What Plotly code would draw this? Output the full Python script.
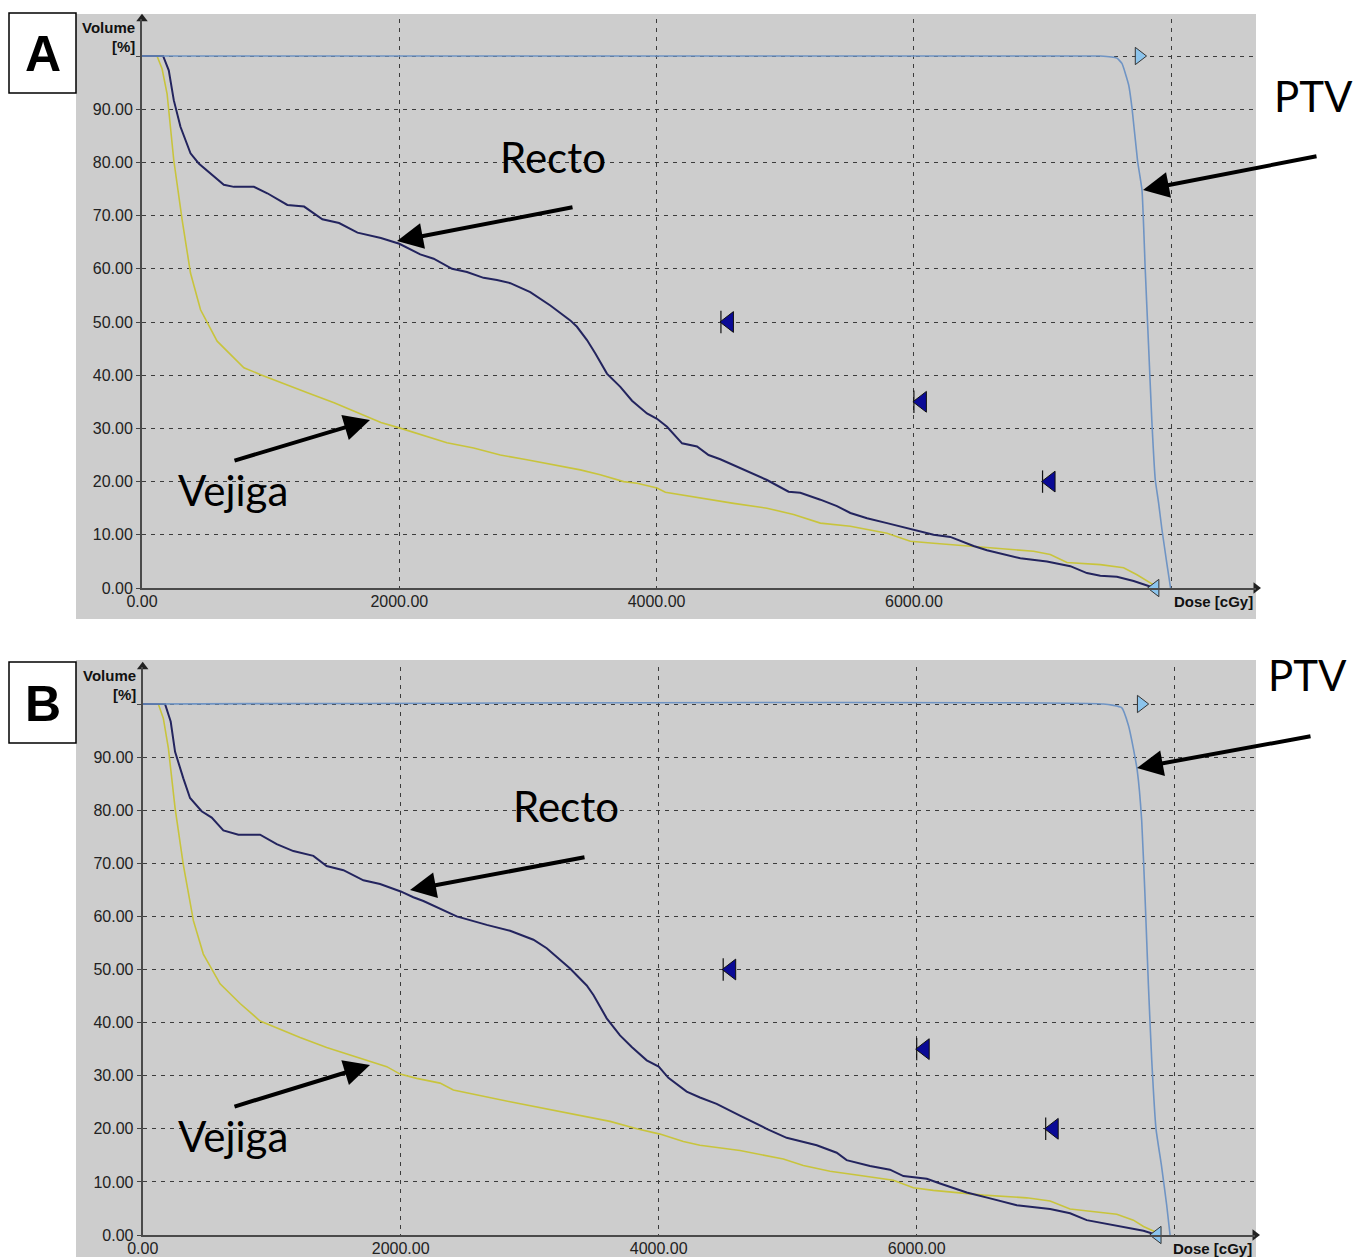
import plotly.graph_objects as go

FW, FH = 1355, 1257

# ---------------- data ----------------
recto_dose_A = [0, 164, 208, 247, 299, 377, 441, 532, 636, 714, 870, 974, 1130, 1260, 1402, 1532, 1675, 1857,
                2000, 2163, 2267, 2410, 2526, 2655, 2759, 2863, 3018, 3174, 3329, 3381, 3459, 3524, 3614, 3718,
                3809, 3925, 4003, 4081, 4198, 4314, 4404, 4495, 4677, 4858, 5026, 5117, 5273, 5402, 5506, 5636,
                5791, 5972, 6076, 6153, 6283, 6464, 6568, 6827, 7034, 7216, 7345, 7449, 7578, 7708, 7870]
recto_vol_A = [100, 100, 97.3, 91.7, 86.7, 81.7, 79.8, 77.9, 75.8, 75.4, 75.4, 74.2, 72.0, 71.7, 69.3, 68.6, 66.8, 65.8,
               64.7, 62.7, 61.9, 60.0, 59.4, 58.3, 57.9, 57.3, 55.6, 53.1, 50.3, 49.1, 46.6, 44.1, 40.3, 37.8,
               35.2, 32.8, 31.8, 30.3, 27.2, 26.6, 25.0, 24.2, 22.2, 20.3, 18.1, 17.9, 16.6, 15.4, 14.1, 13.1,
               12.2, 11.1, 10.6, 10.0, 9.6, 7.9, 7.1, 5.6, 5.0, 4.1, 2.8, 2.3, 2.1, 1.3, 0]
vejiga_dose_A = [0, 117, 156, 195, 247, 312, 377, 455, 584, 792, 922, 1078, 1286, 1493, 1779, 1857, 2000, 2163,
                 2370, 2578, 2785, 2992, 3200, 3407, 3562, 3744, 3848, 4003, 4068, 4236, 4495, 4599, 4858, 5065,
                 5273, 5506, 5791, 5972, 6153, 6412, 6671, 6930, 7060, 7190, 7449, 7630, 7734, 7863]
vejiga_vol_A = [100, 100, 97.6, 92.9, 80.4, 69.2, 59.2, 52.3, 46.4, 41.4, 40.1, 38.6, 36.7, 34.8, 32.0, 31.1, 30.1, 28.9,
                27.3, 26.3, 25.0, 24.1, 23.1, 22.2, 21.3, 20.0, 19.7, 18.8, 18.0, 17.3, 16.3, 15.9, 15.0, 13.8,
                12.2, 11.6, 10.3, 8.8, 8.4, 7.9, 7.3, 6.9, 6.3, 4.8, 4.4, 3.8, 2.5, 0.6]
ptv_dose_A = [0, 7449, 7578, 7617, 7669, 7695, 7739, 7773, 7798, 7824, 7850, 7876, 7902, 7928, 7967, 7995]
ptv_vol_A = [100, 100, 99.6, 98.6, 94.6, 90.3, 80.2, 74.8, 60.0, 45.6, 31.2, 20.4, 16.0, 11.0, 4.5, 0]
ptv_marker_dose_A = [7750, 7875]
ptv_marker_vol_A = [100, 0]

recto_dose_B = [0, 173, 217, 251, 315, 367, 457, 535, 625, 742, 910, 1039, 1168, 1323, 1426, 1556, 1711, 1840,
                2000, 2098, 2176, 2305, 2434, 2667, 2848, 3029, 3132, 3313, 3442, 3494, 3597, 3700, 3791, 3907,
                4000, 4075, 4217, 4320, 4449, 4630, 4837, 4992, 5225, 5380, 5457, 5638, 5793, 5897, 6078, 6181,
                6388, 6569, 6776, 7034, 7189, 7318, 7551, 7758, 7861]
recto_vol_B = [100, 100, 96.7, 91.0, 86.0, 82.3, 79.8, 78.6, 76.2, 75.4, 75.4, 73.6, 72.3, 71.4, 69.5, 68.7, 66.8, 66.1,
               64.7, 63.6, 62.9, 61.4, 60.0, 58.4, 57.3, 55.6, 54.0, 50.2, 47.0, 45.2, 40.8, 37.6, 35.4, 32.9,
               31.7, 29.6, 27.0, 25.9, 24.7, 22.5, 20.0, 18.3, 16.9, 15.5, 14.1, 13.0, 12.3, 11.1, 10.6, 9.7,
               8.0, 6.9, 5.6, 4.9, 4.1, 2.8, 1.7, 0.8, 0]
vejiga_dose_B = [0, 121, 160, 199, 251, 315, 393, 470, 600, 755, 910, 1220, 1426, 1762, 1892, 1995, 2124, 2305,
                 2408, 2848, 3235, 3623, 3830, 4010, 4191, 4320, 4630, 4966, 5121, 5328, 5535, 5819, 5974, 6129,
                 6517, 6853, 7034, 7189, 7551, 7680, 7758, 7848]
vejiga_vol_B = [100, 100, 97.3, 91.7, 80.4, 69.7, 59.2, 52.9, 47.3, 43.6, 40.3, 37.2, 35.3, 32.6, 31.7, 30.3, 29.5, 28.6,
                27.3, 25.1, 23.2, 21.4, 20.0, 19.0, 17.6, 16.9, 15.9, 14.3, 13.1, 12.0, 11.3, 10.3, 8.9, 8.4,
                7.5, 7.0, 6.4, 4.9, 3.9, 2.8, 1.6, 0.6]
ptv_dose_B = [0, 7447, 7589, 7641, 7679, 7710, 7744, 7770, 7796, 7822, 7855, 7899, 7938, 7964]
ptv_vol_B = [100, 100, 99.3, 96.0, 91.7, 87.4, 78.1, 63.7, 47.2, 32.9, 20.0, 12.8, 5.6, 0]
ptv_marker_dose_B = [7740, 7865]
ptv_marker_vol_B = [100, 0]

constraint_dose = [4500, 6000, 7000]
constraint_vol = [50, 35, 20]

x_tick_vals = [0, 2000, 4000, 6000, 8000]
x_tick_text = ["0.00", "2000.00", "4000.00", "6000.00", ""]
y_tick_vals = [0, 10, 20, 30, 40, 50, 60, 70, 80, 90, 100]
y_tick_text = ["0.00", "10.00", "20.00", "30.00", "40.00", "50.00", "60.00", "70.00", "80.00", "90.00", ""]

for a, b in [(recto_dose_A, recto_vol_A), (vejiga_dose_A, vejiga_vol_A), (ptv_dose_A, ptv_vol_A),
             (recto_dose_B, recto_vol_B), (vejiga_dose_B, vejiga_vol_B), (ptv_dose_B, ptv_vol_B)]:
    assert len(a) == len(b), (len(a), len(b))

# ---------------- layout geometry (reference pixels) ----------------
def pxx(x):
    return x / FW

def pxy(y):
    return 1 - y / FH

Y_TOP = 107
panels = [
    dict(name="A", xa="x", ya="y", x0=142.0, x1=1256.0, pxPerDose=257.3 / 2000, y0=588.0, pxPerVol=5.32,
         grey=(76, 14, 1256, 619), box=(9, 13, 76, 93),
         recto=(recto_dose_A, recto_vol_A), vejiga=(vejiga_dose_A, vejiga_vol_A), ptv=(ptv_dose_A, ptv_vol_A),
         ptvm=(ptv_marker_dose_A, ptv_marker_vol_A),
         labels=[("Recto", 553, 157), ("Vejiga", 233, 490), ("PTV", 1313, 96)],
         arrows=[(397, 241, 574, 207), (370, 420, 233, 461), (1143, 190, 1318, 156)]),
    dict(name="B", xa="x2", ya="y2", x0=142.7, x1=1255.0, pxPerDose=258.0 / 2000, y0=1235.0, pxPerVol=5.31,
         grey=(76, 660, 1256, 1257), box=(9, 662, 76, 743),
         recto=(recto_dose_B, recto_vol_B), vejiga=(vejiga_dose_B, vejiga_vol_B), ptv=(ptv_dose_B, ptv_vol_B),
         ptvm=(ptv_marker_dose_B, ptv_marker_vol_B),
         labels=[("Recto", 566, 806), ("Vejiga", 233, 1136), ("PTV", 1307, 675)],
         arrows=[(410, 890, 586, 857), (370, 1065, 233, 1107), (1137, 768, 1312, 736)]),
]

fig = go.Figure()
shapes = []
annotations = []
layout_axes = {}

GRID = "#3c3c3c"
TICKFONT = dict(family="Liberation Sans, Arial, sans-serif", size=16, color="#222222")
LABELFONT = "Lato, Calibri, sans-serif"

for i, p in enumerate(panels):
    xmax = (p["x1"] - p["x0"]) / p["pxPerDose"]
    ytop_px = p["y0"] - Y_TOP * p["pxPerVol"]
    xkey = "xaxis" if i == 0 else "xaxis2"
    ykey = "yaxis" if i == 0 else "yaxis2"
    layout_axes[xkey] = dict(
        domain=[pxx(p["x0"]), pxx(p["x1"])], range=[0, xmax], anchor=p["ya"], automargin=False,
        tickvals=x_tick_vals, ticktext=x_tick_text, tickfont=TICKFONT, ticks="", ticklabelstandoff=-2,
        showgrid=True, gridcolor=GRID, gridwidth=1.4, griddash="4px,5px",
        showline=True, linecolor="#4a4a4a", linewidth=2, zeroline=False, fixedrange=True)
    layout_axes[ykey] = dict(
        domain=[pxy(p["y0"]), pxy(ytop_px)], range=[0, Y_TOP], anchor=p["xa"], automargin=False,
        tickvals=y_tick_vals, ticktext=y_tick_text, tickfont=TICKFONT,
        ticks="outside", ticklen=4, tickcolor="#444444", tickwidth=1,
        showgrid=True, gridcolor=GRID, gridwidth=1.4, griddash="4px,5px",
        showline=True, linecolor="#4a4a4a", linewidth=2, zeroline=False, fixedrange=True)

    gx0, gy0, gx1, gy1 = p["grey"]
    shapes.append(dict(type="rect", xref="paper", yref="paper", x0=pxx(gx0), x1=pxx(gx1),
                       y0=pxy(gy1), y1=pxy(gy0), fillcolor="#cdcdcd", line=dict(width=0), layer="below"))
    bx0, by0, bx1, by1 = p["box"]
    shapes.append(dict(type="rect", xref="paper", yref="paper", x0=pxx(bx0), x1=pxx(bx1),
                       y0=pxy(by1), y1=pxy(by0), fillcolor="white", line=dict(width=1.5, color="black")))
    annotations.append(dict(text="<b>%s</b>" % p["name"], xref="paper", yref="paper",
                            x=pxx((bx0 + bx1) / 2), y=pxy((by0 + by1) / 2 + 1), showarrow=False,
                            xanchor="center", yanchor="middle",
                            font=dict(family="Liberation Sans, Arial", size=50, color="black")))

    annotations.append(dict(text="<b>Volume</b>", xref="paper", yref="paper", x=pxx(p["x0"] - 5),
                            y=pxy(ytop_px + 9), showarrow=False, xanchor="right", yanchor="middle",
                            font=dict(family="Liberation Sans, Arial", size=15, color="#111111")))
    annotations.append(dict(text="<b>[%]</b>", xref="paper", yref="paper", x=pxx(p["x0"] - 5),
                            y=pxy(ytop_px + 28), showarrow=False, xanchor="right", yanchor="middle",
                            font=dict(family="Liberation Sans, Arial", size=15, color="#111111")))
    annotations.append(dict(text="<b>Dose [cGy]</b>", xref="paper", yref="paper", x=pxx(p["x1"] - 1),
                            y=pxy(p["y0"] + 13), showarrow=False, xanchor="right", yanchor="middle",
                            font=dict(family="Liberation Sans, Arial", size=15, color="#111111")))

    vd, vv = p["vejiga"]
    fig.add_trace(go.Scatter(x=vd, y=vv, mode="lines", line=dict(color="#c8c43c", width=1.6),
                             xaxis=p["xa"], yaxis=p["ya"], showlegend=False, cliponaxis=False))
    rd, rv = p["recto"]
    fig.add_trace(go.Scatter(x=rd, y=rv, mode="lines", line=dict(color="#23245e", width=2.0),
                             xaxis=p["xa"], yaxis=p["ya"], showlegend=False, cliponaxis=False))
    pd_, pv = p["ptv"]
    fig.add_trace(go.Scatter(x=pd_, y=pv, mode="lines", line=dict(color="#6f94c4", width=1.6, shape="spline",
                                                                   smoothing=0.4),
                             xaxis=p["xa"], yaxis=p["ya"], showlegend=False, cliponaxis=False))

    tri_offset = 8 / p["pxPerDose"]
    fig.add_trace(go.Scatter(x=constraint_dose, y=constraint_vol, mode="markers",
                             marker=dict(symbol="line-ns", size=16, line=dict(color="#111111", width=1.2)),
                             xaxis=p["xa"], yaxis=p["ya"], showlegend=False))
    fig.add_trace(go.Scatter(x=[d + tri_offset for d in constraint_dose], y=constraint_vol, mode="markers",
                             marker=dict(symbol="triangle-left", size=18, color="#0a0a96",
                                         line=dict(color="#111111", width=1)),
                             xaxis=p["xa"], yaxis=p["ya"], showlegend=False))
    md, mv = p["ptvm"]
    fig.add_trace(go.Scatter(x=md[:1], y=mv[:1], mode="markers",
                             marker=dict(symbol="triangle-right", size=15, color="#8cc4ec",
                                         line=dict(color="#333333", width=1)),
                             xaxis=p["xa"], yaxis=p["ya"], showlegend=False, cliponaxis=False))
    fig.add_trace(go.Scatter(x=md[1:], y=mv[1:], mode="markers",
                             marker=dict(symbol="triangle-left", size=15, color="#8cc4ec",
                                         line=dict(color="#333333", width=1)),
                             xaxis=p["xa"], yaxis=p["ya"], showlegend=False, cliponaxis=False))
    fig.add_trace(go.Scatter(x=[0], y=[Y_TOP], mode="markers",
                             marker=dict(symbol="triangle-up", size=10, color="#222222"),
                             xaxis=p["xa"], yaxis=p["ya"], showlegend=False, cliponaxis=False))
    fig.add_trace(go.Scatter(x=[xmax], y=[0], mode="markers",
                             marker=dict(symbol="triangle-right", size=10, color="#222222"),
                             xaxis=p["xa"], yaxis=p["ya"], showlegend=False, cliponaxis=False))

    for txt, lx, ly in p["labels"]:
        annotations.append(dict(text=txt, xref="paper", yref="paper", x=pxx(lx), y=pxy(ly),
                                showarrow=False, xanchor="center", yanchor="middle",
                                font=dict(family=LABELFONT, size=42, color="black")))
    for tx, ty, sx, sy in p["arrows"]:
        annotations.append(dict(text="", xref="paper", yref="paper", x=pxx(tx), y=pxy(ty),
                                ax=sx - tx, ay=sy - ty, showarrow=True, arrowhead=2, arrowsize=1.3,
                                arrowwidth=4, arrowcolor="black", standoff=0))

fig.update_layout(
    width=FW, height=FH, margin=dict(l=0, r=0, t=0, b=0, pad=0, autoexpand=False),
    paper_bgcolor="white", plot_bgcolor="rgba(0,0,0,0)",
    shapes=shapes, annotations=annotations, showlegend=False,
    **layout_axes)

fig.write_html("out.html")
